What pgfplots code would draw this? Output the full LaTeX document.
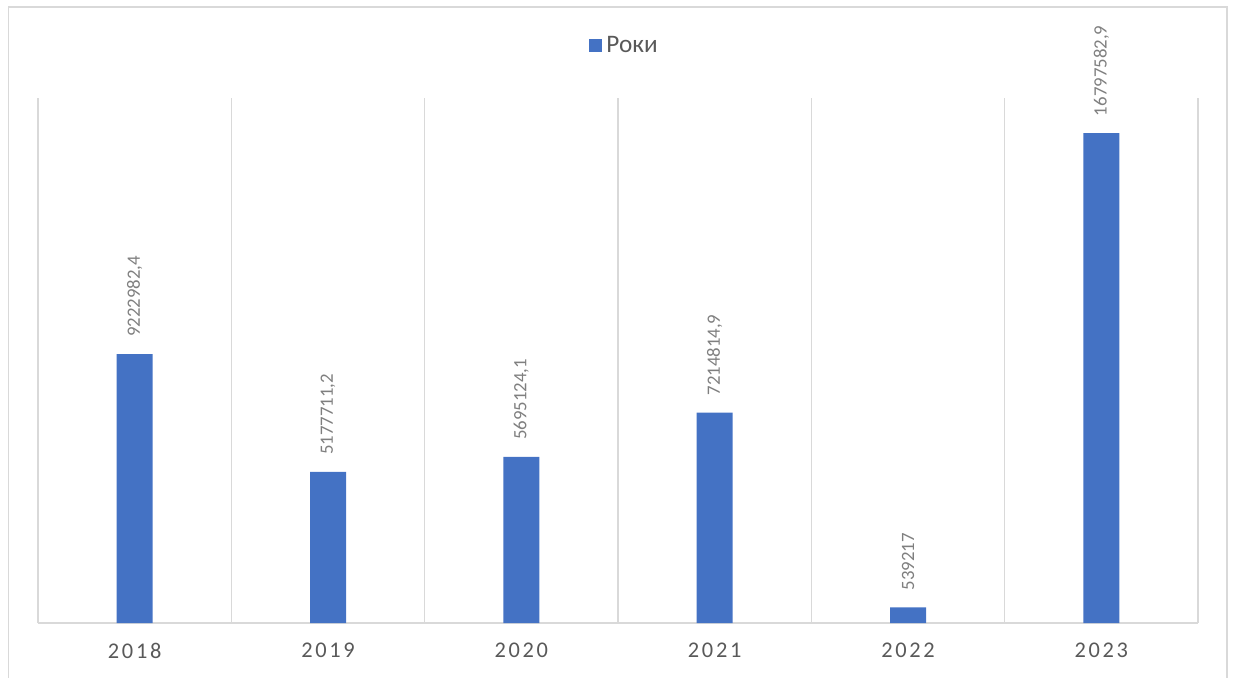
\documentclass[border=0pt]{standalone}
\usepackage{pgfplots}
\pgfplotsset{compat=1.18}
\usepackage{pgfplotstable}
\usepackage{fontspec}
\setmainfont{Carlito}
\definecolor{barblue}{HTML}{4472C4}
\definecolor{gridgray}{HTML}{D9D9D9}
\definecolor{labgray}{HTML}{7F7F7F}
\definecolor{tickgray}{HTML}{595959}
\pgfplotstableread{
x y lab
0 9222982.4 9222982,4
1 5177711.2 5177711,2
2 5695124.1 5695124,1
3 7214814.9 7214814,9
4 539217 539217
5 16797582.9 16797582,9
}\datatable
\begin{document}
\begin{tikzpicture}
\useasboundingbox (0,0) rectangle (617.5pt,338.5pt);
\draw[gridgray, line width=0.9pt] (4.2pt,-2pt) -- (4.2pt,335pt) -- (613.3pt,335pt) -- (613.3pt,-2pt);
\begin{axis}[
  at={(19pt,27pt)}, anchor=south west,
  scale only axis,
  width=580pt, height=262.5pt,
  xmin=-0.5, xmax=5.5,
  ymin=0, ymax=18000000,
  axis y line=none,
  axis x line*=bottom,
  x axis line style={gridgray, line width=0.8pt, -},
  xtick={0,1,2,3,4,5},
  xticklabels={2018,2019,2020,2021,2022,2023},
  major tick length=0pt,
  minor xtick={-0.5,0.5,1.5,2.5,3.5,4.5,5.5},
  minor tick length=0pt,
  xminorgrids=true,
  minor x grid style={gridgray, line width=0.8pt},
  xticklabel style={font=\fontsize{11.2}{13}\selectfont\addfontfeature{LetterSpace=12}, text=tickgray, yshift=-6.5pt},
  ybar, bar width=18pt,
  point meta=explicit symbolic,
  nodes near coords,
  every node near coord/.append style={rotate=90, anchor=west, font=\fontsize{9.4}{11}\selectfont, text=labgray, xshift=5pt},
  legend style={at={(0.5065,1.099)}, anchor=center, draw=none, fill=none, font=\fontsize{12.6}{14}\selectfont, text=tickgray, inner sep=0pt},
  legend image code/.code={\fill[barblue] (0pt,-3.2pt) rectangle (6.5pt,3.3pt);},
  clip=false,
]
\addplot[fill=barblue, draw=none] table[x=x, y=y, meta=lab] {\datatable};
\addlegendentry{Роки}
\end{axis}
\end{tikzpicture}
\end{document}
